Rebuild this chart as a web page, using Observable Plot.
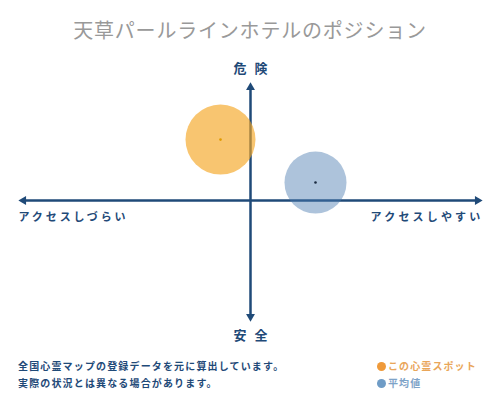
<!DOCTYPE html>
<html>
<head>
<meta charset="utf-8">
<script src="https://cdn.jsdelivr.net/npm/d3@7"></script>
<script src="https://cdn.jsdelivr.net/npm/@observablehq/plot@0.6"></script>
<style>
  body { margin: 0; background: #fff; font-family: "Noto Sans CJK JP", sans-serif; }
  #wrap { width: 500px; height: 400px; position: relative; overflow: hidden; }
  #title { height: 55px; box-sizing: border-box; padding-top: 19px; font-size: 20px; line-height: 22px;
           text-align: center; color: #999; letter-spacing: 0.8px; }
  #footer { height: 55px; position: relative; }
  #notes { position: absolute; left: 18px; top: 12px; font-size: 10px; line-height: 17px; font-weight: bold;
           color: #1f4a78; letter-spacing: 1.15px; }
  #legend { position: absolute; left: 377px; top: 12px; font-size: 10px; line-height: 17px; font-weight: bold;
            letter-spacing: 1.1px; }
  .sw { display: inline-block; width: 9px; height: 9px; border-radius: 50%; margin-right: 2px; vertical-align: -1px; }
</style>
</head>
<body>
<div id="wrap">
  <div id="title"></div>
  <div id="chart"></div>
  <div id="footer"><div id="notes"></div><div id="legend"></div></div>
</div>
<script>
// ---- data ----
const titleText = "天草パールラインホテルのポジション";
const xLabels = ["アクセスしづらい", "アクセスしやすい"];
const yLabels = ["危険", "安全"];
const seriesNames = ["この心霊スポット", "平均値"];
const accessScore = [-0.12, 0.26];   // x: access (right = easier)
const dangerScore = [0.42, 0.124];   // y: danger (up = more dangerous)
const notes = ["全国心霊マップの登録データを元に算出しています。", "実際の状況とは異なる場合があります。"];
const xExtent = [-0.908, 0.908];
const yExtent = [-0.80, 0.78];

// ---- styles ----
const navy = "#1f4a78";
const circleFill = ["#f5a623", "#4a7bb0"];
const circleOpacity = [0.65, 0.45];
const circleR = [35, 31];
const centerFill = ["#e09a00", "#1a2a40"];
const legendDot = ["#ef9a3a", "#6f9cc6"];
const legendText = ["#e9a65a", "#7ea3c8"];

const points = seriesNames.map((name, i) => ({name, x: accessScore[i], y: dangerScore[i], i}));

document.getElementById("title").textContent = titleText;

const heads = [
  {x: xExtent[1], y: 0, rot: 90},
  {x: xExtent[0], y: 0, rot: -90},
  {x: 0, y: yExtent[1], rot: 0},
  {x: 0, y: yExtent[0], rot: 180}
];

const plot = Plot.plot({
  width: 500,
  height: 290,
  margin: 0,
  x: {domain: [-1, 1], axis: null},
  y: {domain: [-1, 1], axis: null},
  style: {fontFamily: "'Noto Sans CJK JP', sans-serif", background: "transparent"},
  marks: [
    Plot.ruleY([0], {x1: xExtent[0], x2: xExtent[1], stroke: navy, strokeWidth: 2.5}),
    Plot.ruleX([0], {y1: yExtent[0], y2: yExtent[1], stroke: navy, strokeWidth: 2.5}),
    Plot.dot(heads, {x: "x", y: "y", rotate: "rot", symbol: "triangle", r: 3.3, fill: navy, stroke: null}),
    Plot.text([yLabels[0]], {x: 0, y: 0.91, text: d => d, fontSize: 13, fontWeight: "bold", fill: navy}),
    Plot.text([yLabels[1]], {x: 0, y: -0.931, text: d => d, fontSize: 13, fontWeight: "bold", fill: navy}),
    Plot.text([xLabels[0]], {x: -0.928, y: -0.117, text: d => d, textAnchor: "start", fontSize: 11, fontWeight: "bold", fill: navy}),
    Plot.text([xLabels[1]], {x: 0.928, y: -0.117, text: d => d, textAnchor: "end", fontSize: 11, fontWeight: "bold", fill: navy}),
    ...points.map(p => Plot.dot([p], {x: "x", y: "y", r: circleR[p.i], fill: circleFill[p.i], fillOpacity: circleOpacity[p.i], stroke: null})),
    ...points.map(p => Plot.dot([p], {x: "x", y: "y", r: 1.3, fill: centerFill[p.i], stroke: null}))
  ]
});

d3.select(plot).selectAll("text").each(function() {
  const t = this.textContent;
  if (yLabels.includes(t)) d3.select(this).style("letter-spacing", "8px").attr("dx", 4);
  if (t === xLabels[0]) d3.select(this).style("letter-spacing", "2.9px");
  if (t === xLabels[1]) d3.select(this).style("letter-spacing", "3.2px").attr("dx", 1);
});

document.getElementById("chart").appendChild(plot);

document.getElementById("notes").innerHTML = notes.map(n => `<div>${n}</div>`).join("");
document.getElementById("legend").innerHTML = seriesNames.map((n, i) =>
  `<div style="color:${legendText[i]}"><span class="sw" style="background:${legendDot[i]}"></span>${n}</div>`).join("");
</script>
</body>
</html>
